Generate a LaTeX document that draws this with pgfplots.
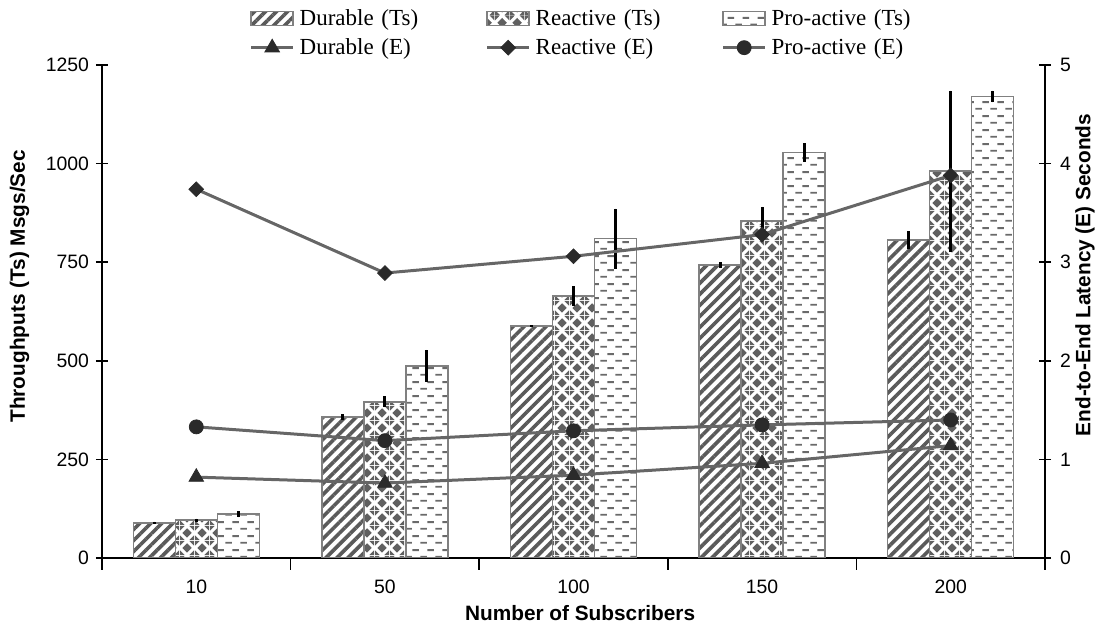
\documentclass[border=0pt]{standalone}
\usepackage{pgfplots}
\pgfplotsset{compat=1.18}
\usepackage{fontspec}
\setmainfont{Liberation Sans}
\newfontfamily\legfont{Liberation Serif}
\usetikzlibrary{patterns,patterns.meta}

\definecolor{edgegray}{HTML}{808080}
\definecolor{stripegray}{HTML}{5A5A5A}
\definecolor{diagray}{HTML}{606060}
\definecolor{dashgray}{HTML}{6A6A6A}
\definecolor{linegray}{HTML}{666666}
\definecolor{markdark}{HTML}{2A2A2A}

\pgfdeclarepatternformonly{diamondlat}{\pgfqpoint{0pt}{0pt}}{\pgfqpoint{7.5pt}{7.5pt}}{\pgfqpoint{7.5pt}{7.5pt}}{%
 \pgfpathmoveto{\pgfqpoint{3.75pt}{1.25pt}}\pgfpathlineto{\pgfqpoint{6.25pt}{3.75pt}}\pgfpathlineto{\pgfqpoint{3.75pt}{6.25pt}}\pgfpathlineto{\pgfqpoint{1.25pt}{3.75pt}}\pgfpathclose
 \pgfpathmoveto{\pgfqpoint{0pt}{0pt}}\pgfpathlineto{\pgfqpoint{2.5pt}{0pt}}\pgfpathlineto{\pgfqpoint{0pt}{2.5pt}}\pgfpathclose
 \pgfpathmoveto{\pgfqpoint{7.5pt}{0pt}}\pgfpathlineto{\pgfqpoint{7.5pt}{2.5pt}}\pgfpathlineto{\pgfqpoint{5pt}{0pt}}\pgfpathclose
 \pgfpathmoveto{\pgfqpoint{0pt}{7.5pt}}\pgfpathlineto{\pgfqpoint{0pt}{5pt}}\pgfpathlineto{\pgfqpoint{2.5pt}{7.5pt}}\pgfpathclose
 \pgfpathmoveto{\pgfqpoint{7.5pt}{7.5pt}}\pgfpathlineto{\pgfqpoint{5pt}{7.5pt}}\pgfpathlineto{\pgfqpoint{7.5pt}{5pt}}\pgfpathclose
 \pgfusepath{fill}}

\pgfdeclarepatternformonly{dashlat}{\pgfqpoint{0pt}{0pt}}{\pgfqpoint{7.5pt}{7pt}}{\pgfqpoint{7.5pt}{7pt}}{%
 \pgfpathrectangle{\pgfqpoint{0.2pt}{1.25pt}}{\pgfqpoint{3.4pt}{1pt}}
 \pgfpathrectangle{\pgfqpoint{3.95pt}{4.75pt}}{\pgfqpoint{3.4pt}{1pt}}
 \pgfusepath{fill}}

\pgfplotsset{
 common/.style={at={(0,0)}, anchor=south west, scale only axis,
  width=471.5pt, height=246.5pt, xmin=-0.5, xmax=4.5,
  tick align=center, major tick length=6pt,
  axis line style={line width=0.9pt, black},
  tick style={line width=0.8pt, black},
  ticklabel style={font=\fontsize{9.7}{11}\selectfont},
  label style={font=\bfseries\fontsize{10.4}{12}\selectfont},
  /pgf/number format/assume math mode=true,
  /pgf/number format/1000 sep={},
  scaled y ticks=false},
 barerr/.style={error bars/.cd, y dir=both, y explicit, error mark=none,
  error bar style={line width=1.5pt, black, solid}},
 barleg/.style={legend image code/.code={\draw[##1] (0pt,-3.5pt) rectangle (21pt,3.5pt);}},
 lineleg/.style={legend image code/.code={\draw[mark repeat=2,mark phase=2,##1] plot coordinates {(0pt,0pt) (10.5pt,0pt) (21pt,0pt)};}},
 durstyle/.style={draw=edgegray, line width=0.75pt, pattern={Lines[angle=45,distance=3.9pt,line width=1.8pt]}, pattern color=stripegray},
 reastyle/.style={draw=edgegray, line width=0.75pt, pattern=diamondlat, pattern color=diagray},
 prostyle/.style={draw=edgegray, line width=0.75pt, pattern=dashlat, pattern color=dashgray},
 lineE/.style={color=linegray, line width=1.5pt},
}

\begin{document}
\begin{tikzpicture}
\path[use as bounding box] (-51pt,-36pt) rectangle (502.5pt,279pt);

\begin{axis}[common, ymin=0, ymax=1250, ytick={0,250,500,750,1000,1250},
 axis x line*=bottom, axis y line*=left,
 xtick={-0.5,0.5,1.5,2.5,3.5,4.5}, x tick label as interval,
 xticklabels={10,50,100,150,200},
 xticklabel style={yshift=-1.5pt},
 xlabel={Number of Subscribers}, ylabel={Throughputs (Ts) Msgs/Sec},
 xlabel style={at={(axis description cs:0.507,-0.112)}, anchor=center},
 ylabel style={at={(axis description cs:-0.0875,0.551)}, anchor=center},
 ybar=0pt, bar width=21pt]
\addplot[durstyle, barerr] coordinates {
 (0,89) +- (0,3) (1,357) +- (0,8) (2,588) +- (0,2) (3,743) +- (0,8) (4,806) +- (0,22)};
\addplot[reastyle, barerr] coordinates {
 (0,96) +- (0,4) (1,396) +- (0,14) (2,664) +- (0,25) (3,855) +- (0,35) (4,981) +- (0,204)};
\addplot[prostyle, barerr] coordinates {
 (0,111) +- (0,8) (1,487) +- (0,41) (2,810) +- (0,76) (3,1028) +- (0,23) (4,1170) +- (0,15)};
\end{axis}

\begin{axis}[common, ymin=0, ymax=5, ytick={0,1,2,3,4,5},
 axis x line=none, axis y line*=right,
 yticklabel style={xshift=1pt},
 ylabel={End-to-End Latency (E) Seconds},
 ylabel style={at={(axis description cs:1.0424,0.574)}, anchor=center},
 lineleg,
 legend columns=3, legend cell align=left,
 legend style={at={(axis description cs:0.1562,1.118)}, anchor=north west,
  draw=none, fill=none, inner sep=0pt, row sep=3pt,
  font=\legfont\fontsize{11.5}{13}\selectfont,
  nodes={text width=90.5pt, inner xsep=2.5pt, inner ysep=1pt, align=left}}]
\addlegendimage{barleg, durstyle}
\addlegendentry{Durable (Ts)}
\addlegendimage{barleg, reastyle}
\addlegendentry{Reactive (Ts)}
\addlegendimage{barleg, prostyle}
\addlegendentry{Pro-active (Ts)}
\addplot[lineE, mark=triangle*, mark size=4.2pt, mark options={solid, fill=markdark, draw=markdark, line width=0.4pt}] coordinates {
 (0,0.82) (1,0.76) (2,0.84) (3,0.96) (4,1.14)};
\addlegendentry{Durable (E)}
\addplot[lineE, mark=square*, mark size=2.6pt, mark options={solid, fill=markdark, draw=markdark, line width=0.4pt, rotate=45}] coordinates {
 (0,3.74) (1,2.89) (2,3.06) (3,3.28) (4,3.88)};
\addlegendentry{Reactive (E)}
\addplot[lineE, mark=*, mark size=3.5pt, mark options={solid, fill=markdark, draw=markdark, line width=0.4pt}] coordinates {
 (0,1.33) (1,1.19) (2,1.29) (3,1.35) (4,1.40)};
\addlegendentry{Pro-active (E)}
\end{axis}
\end{tikzpicture}
\end{document}
